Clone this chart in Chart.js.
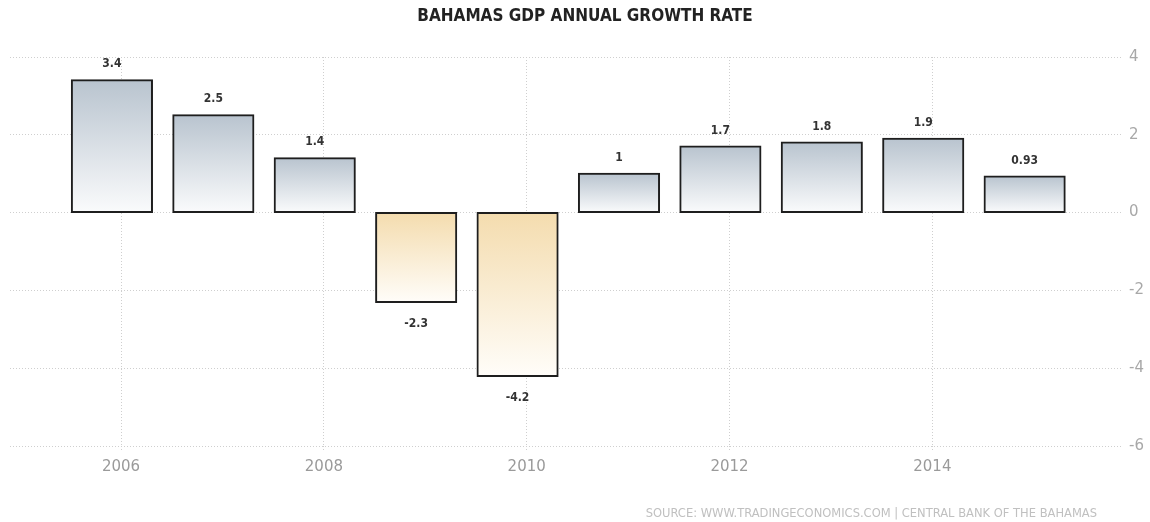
<!DOCTYPE html>
<html>
<head>
<meta charset="utf-8">
<script src="https://cdn.jsdelivr.net/npm/chart.js@4.4.1/dist/chart.umd.min.js"></script>
<style>
html,body{margin:0;padding:0;background:#fff;}
#wrap{width:1150px;height:522px;position:relative;}
</style>
</head>
<body>
<div id="wrap"><canvas id="c" width="1150" height="522"></canvas></div>
<script>
const years = [2006, 2007, 2008, 2009, 2010, 2011, 2012, 2013, 2014, 2015];
const growth = [3.4, 2.5, 1.4, -2.3, -4.2, 1, 1.7, 1.8, 1.9, 0.93];
const valueLabels = ['3.4', '2.5', '1.4', '-2.3', '-4.2', '1', '1.7', '1.8', '1.9', '0.93'];
const xTickYears = [2006, 2008, 2010, 2012, 2014];
const yTicks = [-6, -4, -2, 0, 2, 4];
const titleText = 'BAHAMAS GDP ANNUAL GROWTH RATE';
const sourceText = 'SOURCE: WWW.TRADINGECONOMICS.COM | CENTRAL BANK OF THE BAHAMAS';

// bars are plotted slightly before the year gridline (period-end style)
const barShift = -0.09;

function barGradient(context) {
  const chart = context.chart;
  const area = chart.chartArea;
  if (!area || context.type !== 'data') return '#c8d0da';
  const v = context.raw.y;
  const ys = chart.scales.y;
  const top = ys.getPixelForValue(Math.max(v, 0));
  const bot = ys.getPixelForValue(Math.min(v, 0));
  if (!isFinite(top) || !isFinite(bot) || top === bot) return '#c8d0da';
  const g = chart.ctx.createLinearGradient(0, top, 0, bot);
  if (v >= 0) {
    g.addColorStop(0, '#b9c4cf');
    g.addColorStop(1, '#fafbfc');
  } else {
    g.addColorStop(0, '#f4dcae');
    g.addColorStop(1, '#fffdf9');
  }
  return g;
}

const textPlugin = {
  id: 'texts',
  afterDatasetsDraw(chart) {
    const ctx = chart.ctx;
    const meta = chart.getDatasetMeta(0);
    ctx.save();
    ctx.font = 'bold 12px "DejaVu Sans Condensed", "DejaVu Sans", sans-serif';
    ctx.fillStyle = '#333';
    ctx.textAlign = 'center';
    ctx.textBaseline = 'middle';
    meta.data.forEach((el, i) => {
      const v = growth[i];
      const y = v >= 0 ? el.y - 16 : el.y + 22;
      ctx.fillText(valueLabels[i], el.x, y);
    });
    ctx.restore();
  },
  afterDraw(chart) {
    const ctx = chart.ctx;
    ctx.save();
    ctx.font = 'bold 17px "DejaVu Sans Condensed", "DejaVu Sans", sans-serif';
    ctx.fillStyle = '#222';
    ctx.textAlign = 'center';
    ctx.textBaseline = 'middle';
    ctx.fillText(titleText, 585, 17);
    ctx.font = '11.5px "DejaVu Sans", sans-serif';
    ctx.fillStyle = '#c0c0c0';
    ctx.textAlign = 'right';
    ctx.fillText(sourceText, 1097, 514);
    ctx.restore();
  }
};

new Chart(document.getElementById('c'), {
  type: 'bar',
  data: {
    datasets: [{
      data: years.map((yr, i) => ({ x: yr + barShift, y: growth[i] })),
      backgroundColor: barGradient,
      borderColor: '#1e1e1e',
      borderWidth: 2,
      borderSkipped: false,
      inflateAmount: 1,
      barPercentage: 0.79,
      categoryPercentage: 1
    }]
  },
  options: {
    responsive: false,
    animation: false,
    events: [],
    layout: { padding: { left: 10, right: 0, top: 57, bottom: 0 } },
    plugins: { legend: { display: false }, tooltip: { enabled: false }, title: { display: false } },
    scales: {
      x: {
        type: 'linear',
        offset: false,
        min: 2004.905,
        max: 2015.87,
        afterBuildTicks: s => { s.ticks = xTickYears.map(v => ({ value: v })); },
        afterFit: s => { s.height = 76; },
        grid: {
          offset: false,
          color: '#cfcfcf',
          lineWidth: 1,
          drawTicks: true,
          tickLength: 6,
          tickBorderDash: [1, 2]
        },
        border: { display: false, dash: [1, 2] },
        ticks: {
          color: '#9a9a9a',
          font: { family: '"DejaVu Sans", sans-serif', size: 15 },
          padding: 6,
          maxRotation: 0,
          callback: v => String(v)
        }
      },
      y: {
        position: 'right',
        min: -6,
        max: 4,
        afterBuildTicks: s => { s.ticks = yTicks.map(v => ({ value: v })); },
        afterFit: s => { s.width = 28; },
        grid: { color: '#cfcfcf', lineWidth: 1, drawTicks: false },
        border: { display: false, dash: [1, 2] },
        ticks: {
          color: '#a8a8a8',
          font: { family: '"DejaVu Sans", sans-serif', size: 15 },
          padding: 7,
          callback: v => String(v)
        }
      }
    }
  },
  plugins: [textPlugin]
});
</script>
</body>
</html>
